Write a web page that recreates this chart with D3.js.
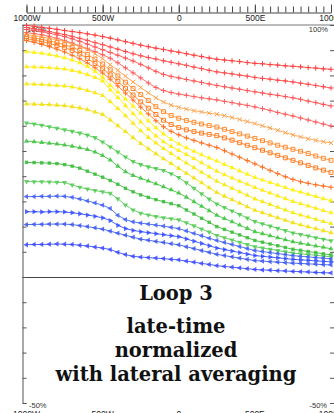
<!DOCTYPE html>
<html>
<head>
<meta charset="utf-8">
<script src="https://cdn.jsdelivr.net/npm/d3@7/dist/d3.min.js"></script>
<style>
  body { margin: 0; background: #fff; }
</style>
</head>
<body>
<div id="chart"></div>
<script>
// station positions along the profile (W negative, E positive)
var distance = [-1000,-950,-900,-850,-800,-750,-700,-650,-600,-550,-500,-450,-400,-350,-300,-250,-200,-150,-100,-50,
  0,50,100,150,200,250,300,350,400,450,500,550,600,650,700,750,800,850,900,950,1000];

// normalized late-time response (%), one array per time channel, top to bottom
var ch01 = [99.8,99.5,99.1,98.7,98.3,97.8,97.4,97.0,96.5,96.0,95.4,94.8,94.1,93.4,92.7,92.0,91.4,90.8,90.3,89.7,89.2,88.6,88.0,87.5,86.9,86.4,86.1,85.8,85.5,85.1,84.8,84.6,84.3,84.1,83.8,83.6,83.4,83.1,82.9,82.6,82.4];
var ch02 = [99.0,98.5,98.0,97.4,96.8,96.2,95.5,94.7,93.9,93.0,92.2,91.3,90.4,89.5,88.6,87.8,87.1,86.5,85.8,85.2,84.6,84.0,83.3,82.7,82.0,81.4,81.0,80.6,80.1,79.7,79.2,78.8,78.5,78.1,77.8,77.4,76.9,76.5,76.0,75.5,75.0];
var ch03 = [98.2,97.8,97.3,96.7,96.1,95.4,94.5,93.5,92.4,91.3,90.2,89.1,88.0,86.9,85.7,84.4,83.0,81.6,80.4,79.6,79.0,78.4,77.8,77.2,76.6,76.0,75.5,75.0,74.5,74.0,73.5,73.0,72.5,72.1,71.6,71.1,70.5,69.8,69.2,68.5,67.9];
var ch04 = [97.0,96.6,96.1,95.5,94.7,93.8,92.8,91.7,90.6,89.4,88.2,86.8,85.0,83.0,81.0,79.0,77.0,75.2,74.0,73.2,72.6,72.1,71.6,71.1,70.7,70.3,69.7,69.2,68.6,68.1,67.5,66.8,66.1,65.3,64.6,63.9,63.1,62.3,61.5,60.7,59.9];
var ch05 = [96.2,95.8,95.3,94.7,94.1,93.4,92.5,91.5,90.3,88.6,86.6,84.2,82.0,79.7,77.4,75.2,73.1,71.1,69.4,68.2,67.3,66.6,66.0,65.5,65.0,64.6,64.0,63.3,62.5,61.7,60.9,60.0,59.1,58.2,57.3,56.4,55.6,54.9,54.2,53.7,53.2];
var ch06 = [95.4,94.9,94.3,93.7,93.0,92.2,91.2,89.9,88.3,86.5,84.5,82.2,79.8,77.3,74.8,72.4,70.0,67.6,65.6,64.1,63.0,62.1,61.4,60.7,60.1,59.5,58.6,57.7,56.8,55.9,55.0,54.1,53.2,52.3,51.5,50.7,49.9,49.0,48.0,47.1,46.3];
var ch07 = [94.6,94.0,93.4,92.7,91.9,91.0,89.9,88.5,86.7,84.7,82.6,80.2,77.6,74.9,72.2,69.5,67.0,64.5,62.2,60.5,59.3,58.4,57.7,57.1,56.6,56.1,55.2,54.3,53.3,52.3,51.3,50.3,49.3,48.3,47.3,46.3,45.3,44.3,43.3,42.4,41.5];
var ch08 = [93.8,93.1,92.3,91.4,90.4,89.3,88.0,86.6,84.9,83.0,80.9,78.5,75.8,73.0,70.2,67.4,64.7,62.0,59.6,57.8,56.4,55.2,54.2,53.2,52.3,51.4,50.1,48.8,47.5,46.2,44.9,43.6,42.3,41.0,39.8,38.7,37.8,37.2,36.6,36.1,35.6];
var ch09 = [89.4,89.1,88.8,88.3,87.7,87.0,86.1,85.0,83.5,81.6,79.3,76.0,73.4,70.6,67.8,65.0,62.0,59.2,56.8,54.6,52.8,51.3,49.9,48.5,47.2,46.0,44.7,43.4,42.1,40.8,39.5,38.5,37.5,36.5,35.5,34.5,33.7,32.8,32.0,31.1,30.3];
var ch10 = [83.4,83.3,83.2,83.0,82.8,82.5,82.0,81.3,80.3,79.2,77.8,74.2,71.2,68.0,64.8,61.5,58.6,56.0,53.7,51.8,50.2,48.6,47.0,45.3,43.6,42.0,40.6,39.3,38.0,36.8,35.5,34.4,33.3,32.2,31.1,30.0,29.1,28.2,27.3,26.4,25.5];
var ch11 = [76.6,76.5,76.4,76.2,76.0,75.8,75.4,74.8,74.0,73.1,72.0,69.6,66.9,64.0,61.0,58.0,55.4,53.2,51.0,49.0,47.1,45.2,43.4,41.6,39.8,38.0,36.6,35.2,33.8,32.4,31.0,29.9,28.8,27.7,26.6,25.5,24.6,23.8,22.9,22.0,21.2];
var ch12 = [68.7,68.6,68.5,68.4,68.2,68.0,67.6,67.1,66.4,65.5,64.5,62.3,60.0,57.7,55.3,53.0,50.9,48.9,46.9,45.0,43.1,41.2,39.3,37.4,35.4,33.5,32.1,30.7,29.3,27.9,26.5,25.5,24.5,23.5,22.5,21.5,20.7,19.9,19.2,18.4,17.6];
var ch13 = [61.1,60.7,60.2,59.6,59.0,58.4,57.8,57.1,56.3,55.3,53.6,51.6,49.6,47.6,45.8,44.6,43.7,43.0,42.3,41.0,39.5,37.4,35.2,33.0,30.9,29.0,27.6,26.2,24.8,23.4,22.0,21.1,20.2,19.3,18.4,17.5,16.9,16.3,15.6,15.0,14.4];
var ch14 = [53.9,53.7,53.4,53.1,52.8,52.4,51.9,51.3,50.6,49.6,48.2,46.4,44.0,41.8,40.3,39.2,38.1,37.0,35.8,34.6,33.3,31.7,29.9,28.1,26.3,24.5,23.2,21.9,20.6,19.3,18.0,17.2,16.4,15.6,14.8,14.0,13.4,12.9,12.3,11.8,11.2];
var ch15 = [45.5,45.4,45.3,45.2,45.0,44.6,44.0,43.2,42.0,40.8,39.6,38.3,36.8,35.2,33.8,32.6,31.6,30.7,29.9,29.1,28.3,26.6,25.0,23.3,21.7,20.0,18.9,17.8,16.7,15.6,14.5,13.8,13.1,12.4,11.7,11.0,10.6,10.1,9.7,9.2,8.8];
var ch16 = [37.9,37.8,37.8,37.7,37.6,37.5,36.5,35.6,34.9,34.3,33.8,33.2,31.0,28.6,26.6,25.3,24.6,24.0,23.5,23.1,22.7,21.5,20.3,19.0,17.8,16.5,15.6,14.7,13.8,12.9,12.0,11.5,11.0,10.5,10.0,9.5,9.2,8.9,8.6,8.3,8.0];
var ch17 = [31.9,31.9,32.0,32.0,32.1,32.0,31.6,31.0,30.2,29.4,28.5,27.2,24.5,22.8,21.9,21.4,21.0,20.6,20.2,19.7,19.2,18.3,17.3,16.4,15.4,14.5,13.7,12.9,12.1,11.3,10.5,10.1,9.7,9.3,8.9,8.5,8.2,8.0,7.7,7.5,7.2];
var ch18 = [25.9,25.9,25.8,25.9,25.9,25.8,25.5,25.1,24.6,24.1,23.5,22.4,20.5,19.2,18.5,18.0,17.6,17.2,16.8,16.4,16.0,15.1,14.2,13.3,12.4,11.5,10.9,10.3,9.7,9.1,8.5,8.2,7.9,7.6,7.3,7.0,6.8,6.6,6.4,6.2,6.0];
var ch19 = [20.8,20.9,20.9,21.0,21.0,21.0,20.8,20.4,20.0,19.5,19.0,18.2,17.4,16.6,15.8,15.0,14.6,14.1,13.7,13.2,12.8,12.0,11.3,10.5,9.8,9.0,8.5,8.0,7.5,7.0,6.5,6.3,6.1,5.9,5.7,5.5,5.4,5.2,5.1,4.9,4.8];
var ch20 = [12.8,12.9,12.9,13.0,13.1,13.0,12.9,12.6,12.3,11.9,11.5,10.9,9.8,8.9,8.2,7.9,7.7,7.5,7.3,7.0,6.8,6.3,5.9,5.4,5.0,4.5,4.2,3.9,3.6,3.3,3.0,2.8,2.7,2.5,2.4,2.2,2.1,2.0,1.8,1.7,1.6];

var channels = [ch01,ch02,ch03,ch04,ch05,ch06,ch07,ch08,ch09,ch10,ch11,ch12,ch13,ch14,ch15,ch16,ch17,ch18,ch19,ch20];

var xTicks = [-1000,-500,0,500,1000];
var xTickLabels = ['1000W','500W','0','500E','1000E'];
var pctTicks = [100,90,80,70,60,50,40,30,20,10,0,-10,-20,-30,-40,-50];

var colors = ['#ff3c3c','#ff4848','#ff5252','#ff5c5c',
  '#ffa04a','#ff8c30','#ff7c22','#ff6e1e',
  '#fff000','#ffea00','#f7e600','#f2de00',
  '#44c844','#36c036','#2fb82f','#4cc84c',
  '#3a5af2','#2a46ff','#3452ee','#3344ff'];
var markers = ['plus','plus','plus','plus',
  'times','square','square','plus',
  'tri','tri','tri','tri',
  'triDown','tri','squareFill','triDown',
  'triLeft','triRight','triLeft','triLeft'];

var W = 334, H = 413;
var svg = d3.select('#chart').append('svg')
  .attr('width', W)
  .attr('height', H);

var x = d3.scaleLinear().domain([-1000, 1000]).range([26.5, 331]);
var y = d3.scaleLinear().domain([-50, 100]).range([403, 25]);

var label_font = "'Liberation Sans', Arial, sans-serif";

// top distance axis: ticks point up, labels sit below the line
var top_minor = svg.append('g')
  .attr('transform', 'translate(0,12.5)')
  .call(d3.axisBottom(x).tickValues(distance).tickSize(-6).tickSizeOuter(0).tickFormat(''));
var top_major = svg.append('g')
  .attr('transform', 'translate(0,12.5)')
  .call(d3.axisBottom(x).tickValues(xTicks).tickSize(-8).tickSizeOuter(0).tickPadding(3)
    .tickFormat(function(d, i){ return xTickLabels[i]; }));
top_minor.select('.domain').attr('stroke', '#444');
top_major.select('.domain').remove();
svg.selectAll('.tick line').attr('stroke', '#444');
top_major.selectAll('text')
  .attr('font-family', label_font)
  .attr('font-size', 8.5)
  .attr('fill', '#222')
  .attr('y', 2.5);

// bottom distance labels (mostly cut by the page edge)
svg.append('g')
  .selectAll('text')
  .data(xTicks)
  .enter().append('text')
  .attr('x', function(d){ return x(d); })
  .attr('y', 416.5)
  .attr('text-anchor', 'middle')
  .attr('font-family', label_font)
  .attr('font-size', 8.5)
  .attr('fill', '#222')
  .text(function(d, i){ return xTickLabels[i]; });

// frame
svg.append('line')
  .attr('x1', 22.5).attr('x2', W)
  .attr('y1', y(100)).attr('y2', y(100))
  .attr('stroke', '#777').attr('stroke-width', 1);
svg.append('line')
  .attr('x1', 22.5).attr('x2', W)
  .attr('y1', y(0) + 0.5).attr('y2', y(0) + 0.5)
  .attr('stroke', '#444').attr('stroke-width', 1);

var left_axis = svg.append('g')
  .attr('transform', 'translate(22.5,0)')
  .call(d3.axisRight(y).tickValues(pctTicks).tickSize(4).tickSizeOuter(4).tickFormat(''));
var right_axis = svg.append('g')
  .attr('transform', 'translate(334,0)')
  .call(d3.axisLeft(y).tickValues(pctTicks).tickSize(4).tickSizeOuter(4).tickFormat(''));
left_axis.selectAll('line, path').attr('stroke', '#555');
right_axis.selectAll('line, path').attr('stroke', '#555');

// percent labels at the corners
var corner = [
  {t: '100%', x: 27, v: 100, a: 'start', dy: 6.5},
  {t: '-50%', x: 29, v: -50, a: 'start', dy: 5},
  {t: '100%', x: 328, v: 100, a: 'end', dy: 6.5},
  {t: '-50%', x: 327, v: -50, a: 'end', dy: 5}
];
svg.append('g')
  .selectAll('text')
  .data(corner)
  .enter().append('text')
  .attr('x', function(d){ return d.x; })
  .attr('y', function(d){ return y(d.v) + d.dy; })
  .attr('text-anchor', function(d){ return d.a; })
  .attr('font-family', label_font)
  .attr('font-size', 7.5)
  .attr('fill', '#333')
  .text(function(d){ return d.t; });

// profiles
var line = d3.line()
  .x(function(d, i){ return x(distance[i]); })
  .y(function(d){ return y(d); });

function marker_path(kind){
  if (kind == 'plus') return d3.symbol().type(d3.symbolPlus).size(10)();
  if (kind == 'times') return d3.symbol().type(d3.symbolTimes).size(14)();
  if (kind == 'square') return d3.symbol().type(d3.symbolSquare2).size(20)();
  if (kind == 'squareFill') return d3.symbol().type(d3.symbolSquare).size(12)();
  return d3.symbol().type(d3.symbolTriangle).size(12)();
}
function marker_rot(kind){
  if (kind == 'triDown') return 180;
  if (kind == 'triLeft') return -90;
  if (kind == 'triRight') return 90;
  return 0;
}

var lines_g = svg.append('g');
channels.forEach(function(vals, k){
  var g = lines_g.append('g');
  g.append('path')
    .datum(vals)
    .attr('d', line)
    .attr('fill', 'none')
    .attr('stroke', colors[k])
    .attr('stroke-width', 1)
    .attr('stroke-opacity', 0.85);

  var kind = markers[k];
  var stroked = (kind == 'plus' || kind == 'times' || kind == 'square');
  g.selectAll('path.mk')
    .data(vals)
    .enter().append('path')
    .attr('class', 'mk')
    .attr('d', marker_path(kind))
    .attr('transform', function(d, i){
      return 'translate(' + x(distance[i]) + ',' + y(d) + ') rotate(' + marker_rot(kind) + ')';
    })
    .attr('fill', stroked ? 'none' : colors[k])
    .attr('fill-opacity', 0.8)
    .attr('stroke', stroked ? colors[k] : 'none')
    .attr('stroke-width', 1);
});

// title block
var title_lines = ['Loop 3', 'late-time', 'normalized', 'with lateral averaging'];
var title_y = [300, 333, 357, 381];
svg.append('g')
  .selectAll('text')
  .data(title_lines)
  .enter().append('text')
  .attr('x', 176)
  .attr('y', function(d, i){ return title_y[i]; })
  .attr('text-anchor', 'middle')
  .attr('font-family', "'DejaVu Serif', serif")
  .attr('font-weight', 'bold')
  .attr('font-size', 19.5)
  .attr('fill', '#111')
  .text(function(d){ return d; });
</script>
</body>
</html>
